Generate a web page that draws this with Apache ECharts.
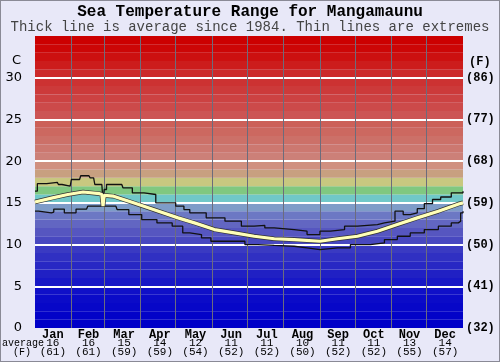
<!DOCTYPE html>
<html><head><meta charset="utf-8">
<script src="https://cdn.jsdelivr.net/npm/echarts@6/dist/echarts.min.js"></script>
<style>
html,body{margin:0;padding:0;background:#e8e8f8}
#c{width:500px;height:362px}
#b{position:absolute;left:0;top:0;width:498px;height:360px;border:1px solid #8a8a96;pointer-events:none}
</style>
</head><body><div id="c"></div><div id="b"></div>
<script>
// ---- data ----
const months = ['Jan','Feb','Mar','Apr','May','Jun','Jul','Aug','Sep','Oct','Nov','Dec'];
const monthAvgC = [16,16,15,14,12,11,11,10,11,11,13,14];
const monthAvgF = [61,61,59,59,54,52,52,50,52,52,55,57];
const monthEnds = [31,59,90,120,151,181,212,243,273,304,334];
const celsiusTicks = [0,5,10,15,20,25,30];
const fahrenheitTicks = ['(32)','(41)','(50)','(59)','(68)','(77)','(86)'];

const avgDay  = [0,15,28,41,55,57,58,59,67,84,101,122,136,153,170,187,204,221,243,258,275,292,309,326,344,362,365];
const avgTemp = [15.1,15.6,16.0,16.3,16.1,16.0,14.6,15.9,15.8,15.0,14.2,13.2,12.6,11.8,11.4,11.0,10.7,10.6,10.4,10.7,11.0,11.6,12.4,13.2,14.0,14.9,15.0];

const maxDay  = [0,2,10,11,19,20,23,30,31,38,39,46,47,50,51,57,58,59,61,74,75,80,83,93,103,120,127,132,146,162,176,187,196,204,221,232,243,252,264,275,292,298,307,314,320,326,332,339,346,355,365];
const maxTemp = [16.4,17.3,17.3,17.45,17.45,17.2,17.0,17.0,17.8,17.8,18.25,18.25,18.0,18.0,17.2,17.2,15.2,16.6,17.2,17.2,16.8,16.8,16.2,16.0,15.0,14.6,14.2,13.8,13.2,12.8,12.2,12.3,12.0,11.8,11.6,11.2,11.6,11.8,12.2,12.4,12.6,12.8,14.0,13.6,13.8,14.3,14.9,15.4,15.7,16.2,16.4];

const minDay  = [0,3,14,16,23,25,33,35,44,45,69,70,80,91,104,117,126,132,142,150,164,179,190,204,221,232,243,258,269,286,298,309,320,332,344,355,361,363,365];
const minTemp = [14.0,13.8,13.9,14.25,14.25,13.8,13.8,14.25,14.25,14.6,14.6,14.2,13.6,13.0,12.6,12.2,11.4,11.2,10.8,10.4,10.4,10.0,9.9,9.8,9.6,9.4,9.6,9.6,10.0,10.2,10.6,11.0,11.4,11.8,12.2,12.6,12.8,13.8,14.0];

// ---- styles ----
const bandColors = [
 '#0000c8','#0303c8','#0707c8','#0b0bc8','#1010c8','#1818c6','#2020c4','#2828c4','#3030c2','#3a3ac2',
 '#4848c0','#5656c0','#6266c2','#6c78c4','#7e9cc8','#70c8c8','#80c880','#c8c880','#c8a080','#d09080',
 '#cc8078','#cc7870','#cc7068','#cc6860','#cc6058','#cc5454','#cc4a4a','#cc4242','#cc3a3a','#cc3232',
 '#cc2a2a','#cc1c1c','#cc1010','#cc0606','#cc0000'
];
const mono = 'Liberation Mono, Courier New, monospace';
const sans = 'DejaVu Sans, Verdana, sans-serif';

const pairs = (xs, ys) => xs.map((x, i) => [x, ys[i]]);

const chart = echarts.init(document.getElementById('c'), null, {renderer: 'canvas'});
chart.setOption({
  animation: false,
  backgroundColor: '#e8e8f8',
  title: [
    {text: 'Sea Temperature Range for Mangamaunu', left: 'center', top: 4, padding: 0,
     textStyle: {fontFamily: mono, fontSize: 16, fontWeight: 'bold', color: '#000'}},
    {text: 'Thick line is average since 1984. Thin lines are extremes', left: 'center', top: 20, padding: 0,
     textStyle: {fontFamily: mono, fontSize: 14, fontWeight: 'normal', color: '#444'}}
  ],
  grid: {left: 35, right: 37, top: 36, bottom: 34, containLabel: false},
  xAxis: [
    {type: 'value', min: 0, max: 365, show: false},
    {type: 'category', data: months, position: 'bottom', boundaryGap: true,
     axisLine: {show: false}, axisTick: {show: false}, splitLine: {show: false},
     axisLabel: {margin: 2, interval: 0,
       formatter: (v, i) => '{m|' + v + '}\n{a|' + monthAvgC[i] + '}\n{f|(' + monthAvgF[i] + ')}',
       rich: {
         m: {fontFamily: mono, fontSize: 12, fontWeight: 'bold', color: '#000', lineHeight: 9},
         a: {fontFamily: mono, fontSize: 11, color: '#000', lineHeight: 9},
         f: {fontFamily: mono, fontSize: 11, color: '#000', lineHeight: 9}
       }}}
  ],
  yAxis: [
    {type: 'value', min: 0, max: 35, interval: 5, position: 'left',
     axisLine: {show: false}, axisTick: {show: false}, splitLine: {show: false},
     axisLabel: {margin: 13, fontFamily: sans, fontSize: 13, color: '#000',
       formatter: v => celsiusTicks.indexOf(v) >= 0 ? String(v) : ''}},
    {type: 'value', min: 0, max: 35, interval: 5, position: 'right',
     axisLine: {show: false}, axisTick: {show: false}, splitLine: {show: false},
     axisLabel: {margin: 3, fontFamily: mono, fontSize: 12, fontWeight: 'bold', color: '#000',
       formatter: v => { const i = celsiusTicks.indexOf(v); return i >= 0 ? fahrenheitTicks[i] : ''; }}}
  ],
  graphic: [
    {type: 'text', left: 12, top: 54, style: {text: 'C', font: '13px ' + sans, fill: '#000'}},
    {type: 'text', left: 469, top: 56, style: {text: '(F)', font: 'bold 12px ' + mono, fill: '#000'}},
    {type: 'text', left: 2, top: 338, style: {text: 'average', font: '10px ' + mono, fill: '#000'}},
    {type: 'text', left: 13, top: 347, style: {text: '(F)', font: '10px ' + mono, fill: '#000'}}
  ],
  series: [
    {name: 'bands', type: 'line', xAxisIndex: 0, yAxisIndex: 0, z: 1, silent: true,
     data: pairs(avgDay, avgTemp), showSymbol: false, lineStyle: {width: 0, opacity: 0},
     markArea: {silent: true, z: 1,
       data: bandColors.map((c, i) => [{yAxis: i, itemStyle: {color: c, opacity: 1, borderWidth: 0}}, {yAxis: i + 1}])}},
    {name: 'grid', type: 'line', xAxisIndex: 0, yAxisIndex: 0, z: 2, silent: true,
     data: pairs(avgDay, avgTemp), showSymbol: false, lineStyle: {width: 0, opacity: 0},
     markLine: {silent: true, z: 2, symbol: ['none', 'none'], label: {show: false},
       data: celsiusTicks.filter(v => v > 0).map(v => ({yAxis: v, lineStyle: {color: '#ffffff', width: 2, type: 'solid'}}))
         .concat(monthEnds.map(d => ({xAxis: d, lineStyle: {color: '#6c6c7c', width: 1, type: 'solid'}})))}},
    {name: 'max', type: 'line', xAxisIndex: 0, yAxisIndex: 0, z: 10, step: 'end',
     data: pairs(maxDay, maxTemp), showSymbol: false, lineStyle: {color: '#111', width: 1.3}},
    {name: 'min', type: 'line', xAxisIndex: 0, yAxisIndex: 0, z: 10, step: 'end',
     data: pairs(minDay, minTemp), showSymbol: false, lineStyle: {color: '#111', width: 1.3}},
    {name: 'avgOutline', type: 'line', xAxisIndex: 0, yAxisIndex: 0, z: 11,
     data: pairs(avgDay, avgTemp), showSymbol: false, lineStyle: {color: '#333', width: 4.6}},
    {name: 'avg', type: 'line', xAxisIndex: 0, yAxisIndex: 0, z: 12,
     data: pairs(avgDay, avgTemp), showSymbol: false, lineStyle: {color: '#ffffb8', width: 3.2}}
  ]
});
</script>
</body></html>
